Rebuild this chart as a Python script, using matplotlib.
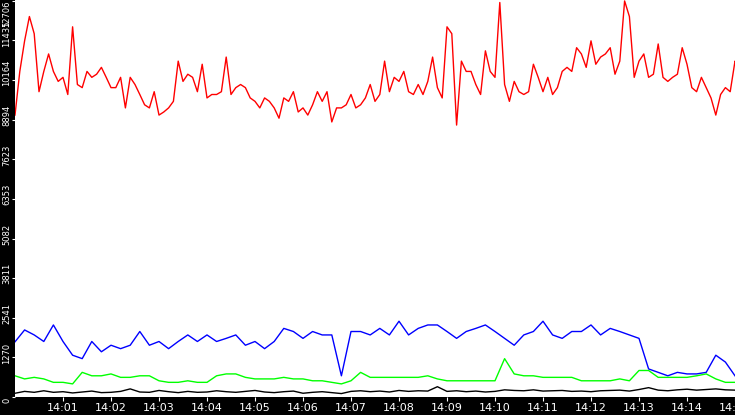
import matplotlib
matplotlib.use("Agg")
import matplotlib.pyplot as plt
import numpy as np

# red series, one reading every 6 s from 14:00:00
red = [9040, 10440, 11420, 12200, 11650, 9790, 10440, 11000, 10440, 10120,
       10250, 9700, 11870, 10020, 9920, 10440, 10250, 10350, 10570, 10250,
       9920, 9920, 10250, 9270, 10250, 10020, 9700, 9370, 9270, 9790,
       9040, 9140, 9270, 9480, 10770, 10120, 10350, 10250, 9790, 10670,
       9590, 9700, 9700, 9790, 10900, 9700, 9920, 10020, 9920, 9590,
       9480, 9270, 9590, 9480, 9270, 8940, 9590, 9480, 9790, 9140,
       9270, 9040, 9370, 9790, 9480, 9790, 8820, 9270, 9270, 9370,
       9700, 9270, 9370, 9590, 10020, 9480,
       9700, 10770, 9790, 10250, 10120, 10440, 9790, 9700, 10020, 9700,
       10120, 10900, 9920, 9590, 11870, 11650, 8720, 10770, 10440, 10440,
       10020, 9700, 11100, 10440, 10250, 12650, 10020, 9480, 10120, 9790,
       9700, 9790, 10670, 10250, 9790, 10250, 9700, 9920, 10440, 10570,
       10440, 11200, 11000, 10570, 11420, 10670, 10900, 11000, 11200, 10350,
       10770, 12700, 12200, 10250, 10770, 11000, 10250, 10350, 11320, 10250,
       10120, 10250, 10350, 11200, 10670, 9920, 9790, 10250, 9920, 9590,
       9040, 9700, 9920, 9790, 10770, 10570]

# lower series, one reading every 12 s
blue = [1770, 2150, 1990, 1780, 2310, 1780, 1340, 1230, 1780, 1450,
        1660, 1550, 1660, 2100, 1660, 1780, 1550, 1780, 1990, 1780,
        1990, 1780, 1880, 1990, 1660, 1780, 1550, 1780, 2200, 2100,
        1880, 2100, 1990, 1990, 680, 2100, 2100, 1990, 2200, 1990,
        2430, 1990, 2200, 2310, 2310, 2100, 1880, 2100, 2200, 2310,
        2100, 1880, 1660, 1990, 2100, 2430, 1990, 1880, 2100, 2100,
        2310, 1990, 2200, 2100, 1990, 1880, 900, 790, 680, 790,
        740, 740, 790, 1340, 1120, 680]
green = [680, 580, 630, 580, 470, 470, 420, 790, 680, 680,
         740, 630, 630, 680, 680, 520, 470, 470, 520, 470,
         470, 680, 740, 740, 630, 580, 580, 580, 630, 580,
         580, 520, 520, 470, 420, 520, 790, 630, 630, 630,
         630, 630, 630, 680, 580, 520, 520, 520, 520, 520,
         520, 1230, 740, 680, 680, 630, 630, 630, 630, 520,
         520, 520, 520, 580, 520, 850, 850, 630, 630, 630,
         630, 680, 740, 580, 470, 470]
black = [120, 180, 150, 200, 150, 170, 130, 160, 190, 140,
         150, 180, 260, 160, 150, 210, 170, 140, 180, 150,
         160, 200, 170, 150, 180, 210, 160, 140, 170, 190,
         120, 150, 170, 140, 110, 180, 200, 170, 190, 160,
         210, 180, 200, 190, 330, 180, 200, 170, 190, 160,
         180, 230, 210, 200, 230, 190, 200, 210, 180, 190,
         170, 200, 210, 220, 190, 240, 300, 220, 200, 230,
         250, 220, 240, 260, 230, 220]

t_red = np.arange(len(red)) * 6
t_low = np.arange(len(blue)) * 12

yticks = [0, 1270, 2541, 3811, 5082, 6353, 7623, 8894, 10164, 11435, 12706]
xticks = np.arange(60, 901, 60)
xlabels = ["14:%02d" % m for m in range(1, 16)]

fig = plt.figure(figsize=(7.35, 4.15), dpi=100, facecolor="black")
ax = fig.add_axes([15 / 735, 18 / 415, 720 / 735, 397 / 415])
ax.set_facecolor("white")

ax.plot(t_red, red, color="red", lw=1)
ax.plot(t_low, blue, color="blue", lw=1)
ax.plot(t_low, green, color="#00ff00", lw=1)
ax.plot(t_low, black, color="black", lw=1)

ax.set_xlim(0, 900)
ax.set_ylim(0, 12730)
for s in ax.spines.values():
    s.set_visible(False)

# y labels drawn by hand so they sit just above each tick like the original
ax.set_yticks(yticks)
ax.tick_params(axis="y", colors="white", length=2, labelleft=False)
for v in yticks:
    top = v == yticks[-1]
    ax.annotate(str(v), xy=(0, v), xycoords=("axes fraction", "data"),
                xytext=(-2.5, 0 if top else -4.5), textcoords="offset points",
                rotation=90, ha="right", va="top" if top else "bottom",
                color="white", fontsize=6, annotation_clip=False)

ax.set_xticks(xticks)
ax.set_xticklabels(xlabels, color="white", fontsize=8)
ax.tick_params(axis="x", colors="white", length=3, pad=1)

fig.savefig("out.png", dpi=100, facecolor="black")
